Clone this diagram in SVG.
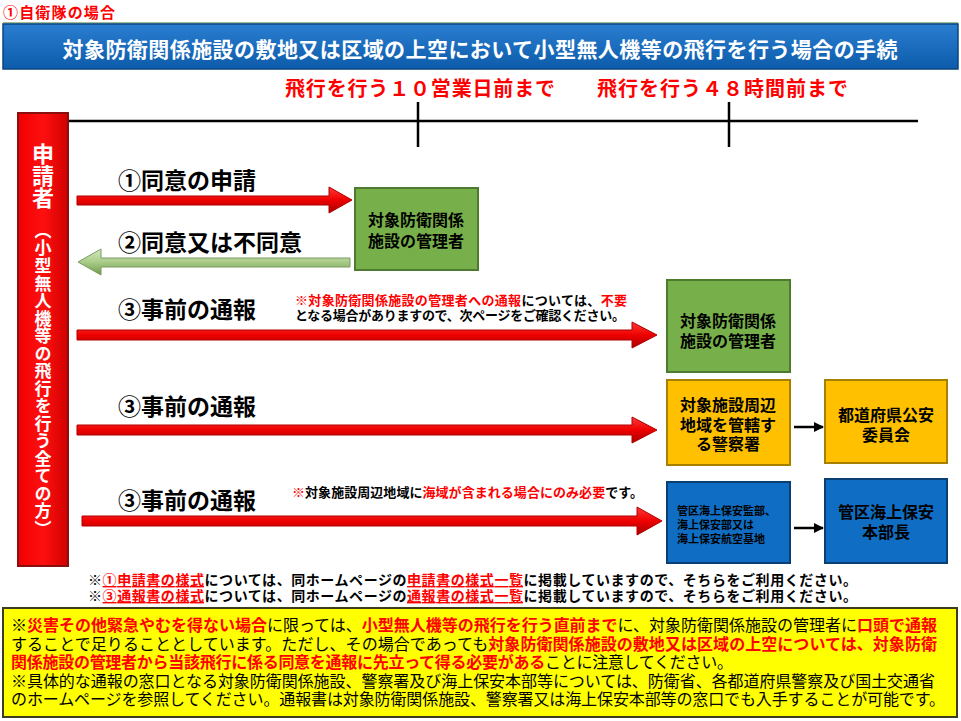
<svg xmlns="http://www.w3.org/2000/svg" width="961" height="721" viewBox="0 0 961 721">
<defs>
<linearGradient id="gRed" x1="0" y1="0" x2="0" y2="1"><stop offset="0" stop-color="#ff3a3a"/><stop offset="0.5" stop-color="#ee0000"/><stop offset="1" stop-color="#a80000"/></linearGradient>
<linearGradient id="gGreenArrow" x1="0" y1="0" x2="0" y2="1"><stop offset="0" stop-color="#d6e8c4"/><stop offset="0.5" stop-color="#a9cc88"/><stop offset="1" stop-color="#6f9a4c"/></linearGradient>
<linearGradient id="gBar" x1="0" y1="0" x2="1" y2="0"><stop offset="0" stop-color="#f00000"/><stop offset="0.5" stop-color="#ff1010"/><stop offset="1" stop-color="#d00000"/></linearGradient>
<linearGradient id="gHead" x1="0" y1="0" x2="0" y2="1"><stop offset="0" stop-color="#2a7dd0"/><stop offset="1" stop-color="#0d5cab"/></linearGradient>
<marker id="mArr" viewBox="0 0 10 10" refX="9" refY="5" markerWidth="4" markerHeight="4" orient="auto"><path d="M0,0 L10,5 L0,10 Z" fill="#000"/></marker>
</defs>
<style>
text{font-family:"Noto Sans CJK JP","Noto Sans CJK SC",sans-serif;}
.b{font-weight:700;}
.red{fill:#ff0000;}
.blk{fill:#000;}
.wht{fill:#fff;}
.box{stroke-width:2;}
.green{fill:#77b04a;stroke:#4d7a2c;}
.yellow{fill:#ffc000;stroke:#a88000;}
.blue{fill:#0f6ec4;stroke:#0a3f74;}
.bt{font-weight:700;font-size:16px;fill:#000;text-anchor:middle;}
.row{font-weight:700;font-size:23px;fill:#000;}
.note{font-weight:700;font-size:13px;}
.fn{font-weight:700;font-size:14px;}
.ul{text-decoration:underline;}
.yb{font-size:16px;fill:#000;}
</style>
<rect width="961" height="721" fill="#fff"/>

<g id="title">
<text x="3" y="18" class="b red" font-size="15" textLength="112">①自衛隊の場合</text>
</g>

<g id="header">
<line x1="3" y1="23" x2="958" y2="23" stroke="#9ebd9a" stroke-width="2"/>
<rect x="3" y="24" width="955" height="45" fill="url(#gHead)" stroke="#0b4682" stroke-width="1.5"/>
<text x="480" y="57" class="b wht" font-size="21" text-anchor="middle" textLength="835">対象防衛関係施設の敷地又は区域の上空において小型無人機等の飛行を行う場合の手続</text>
</g>

<g id="timeline">
<text x="285" y="96" class="b red" font-size="20" textLength="270">飛行を行う１０営業日前まで</text>
<text x="597" y="96" class="b red" font-size="20" textLength="251">飛行を行う４８時間前まで</text>
<line x1="68" y1="121" x2="918" y2="121" stroke="#000" stroke-width="2.5"/>
<line x1="418" y1="102" x2="418" y2="147" stroke="#000" stroke-width="2.5"/>
<line x1="729" y1="102" x2="729" y2="147" stroke="#000" stroke-width="2.5"/>
</g>

<g id="applicant">
<rect x="18" y="113" width="50" height="453" fill="url(#gBar)" stroke="#8a1010" stroke-width="2"/>
<text x="43" y="143" class="b wht" font-size="22" writing-mode="vertical-rl">申請者</text>
<text x="43" y="222" class="b wht" font-size="17" writing-mode="vertical-rl" textLength="315">（小型無人機等の飛行を行う全ての方）</text>
</g>

<g id="connectors">
<path d="M77,196 H329 V187 L352,200 L329,213 V205 H77 Z" fill="url(#gRed)" stroke="#b00000" stroke-width="1"/>
<path d="M350,258 H101 V249 L78,262 L101,275 V267 H350 Z" fill="url(#gGreenArrow)" stroke="#7a9c60" stroke-width="1"/>
<path d="M77,330 H632 V322 L657,335 L632,348 V340 H77 Z" fill="url(#gRed)" stroke="#b00000" stroke-width="1"/>
<path d="M77,425 H632 V417 L657,430 L632,443 V435 H77 Z" fill="url(#gRed)" stroke="#b00000" stroke-width="1"/>
<path d="M82,516 H637 V507 L662,521 L637,535 V526 H82 Z" fill="url(#gRed)" stroke="#b00000" stroke-width="1"/>
<line x1="794" y1="427" x2="823" y2="427" stroke="#000" stroke-width="2.5" marker-end="url(#mArr)"/>
<line x1="794" y1="528" x2="823" y2="528" stroke="#000" stroke-width="2.5" marker-end="url(#mArr)"/>
</g>

<g id="labels">
<text x="118" y="189" class="row">①同意の申請</text>
<text x="118" y="251" class="row">②同意又は不同意</text>
<text x="118" y="318" class="row">③事前の通報</text>
<text x="118" y="415" class="row">③事前の通報</text>
<text x="118" y="509" class="row">③事前の通報</text>
<text x="295" y="305" class="note" textLength="332"><tspan class="red">※対象防衛関係施設の管理者への通報</tspan><tspan class="blk">については、</tspan><tspan class="red">不要</tspan></text>
<text x="295" y="320" class="note blk" textLength="330">となる場合がありますので、次ページをご確認ください。</text>
<text x="292" y="497" class="note" textLength="351"><tspan class="red">※</tspan><tspan class="blk">対象施設周辺地域に</tspan><tspan class="red">海域が含まれる場合にのみ必要</tspan><tspan class="blk">です。</tspan></text>
</g>

<g id="node-mgr1">
<rect x="355" y="188" width="123" height="82" class="box green"/>
<text x="416" y="226" class="bt">対象防衛関係</text>
<text x="416" y="247" class="bt">施設の管理者</text>
</g>

<g id="node-mgr2">
<rect x="667" y="280" width="123" height="92" class="box green"/>
<text x="728" y="327" class="bt">対象防衛関係</text>
<text x="728" y="347" class="bt">施設の管理者</text>
</g>

<g id="node-police">
<rect x="667" y="380" width="123" height="85" class="box yellow"/>
<text x="728" y="411" class="bt">対象施設周辺</text>
<text x="728" y="431" class="bt">地域を管轄す</text>
<text x="728" y="450" class="bt">る警察署</text>
</g>

<g id="node-commission">
<rect x="825" y="380" width="122" height="83" class="box yellow"/>
<text x="886" y="421" class="bt">都道府県公安</text>
<text x="886" y="441" class="bt">委員会</text>
</g>

<g id="node-coastguard">
<rect x="667" y="482" width="123" height="81" class="box blue"/>
<text x="677" y="515" font-size="11" class="b blk">管区海上保安監部、</text>
<text x="677" y="529" font-size="11" class="b blk">海上保安部又は</text>
<text x="677" y="543" font-size="11" class="b blk">海上保安航空基地</text>
</g>

<g id="node-hq">
<rect x="825" y="479" width="122" height="84" class="box blue"/>
<text x="886" y="518" class="bt">管区海上保安</text>
<text x="886" y="538" class="bt">本部長</text>
</g>

<g id="footnotes">
<text x="88" y="585" class="fn" textLength="769"><tspan class="blk">※</tspan><tspan class="red ul">①申請書の様式</tspan><tspan class="blk">については、同ホームページの</tspan><tspan class="red ul">申請書の様式一覧</tspan><tspan class="blk">に掲載していますので、そちらをご利用ください。</tspan></text>
<text x="88" y="601" class="fn" textLength="769"><tspan class="blk">※</tspan><tspan class="red ul">③通報書の様式</tspan><tspan class="blk">については、同ホームページの</tspan><tspan class="red ul">通報書の様式一覧</tspan><tspan class="blk">に掲載していますので、そちらをご利用ください。</tspan></text>
</g>

<g id="notice">
<rect x="3" y="608" width="954" height="109" fill="#ffff00" stroke="#3d3d20" stroke-width="2"/>
<text x="11" y="631" class="yb" textLength="926"><tspan>※</tspan><tspan class="red b">災害その他緊急やむを得ない場合</tspan><tspan>に限っては、</tspan><tspan class="red b">小型無人機等の飛行を行う直前まで</tspan><tspan>に、対象防衛関係施設の管理者に</tspan><tspan class="red b">口頭で通報</tspan></text>
<text x="11" y="650" class="yb" textLength="926"><tspan>することで足りることとしています。ただし、その場合であっても</tspan><tspan class="red b">対象防衛関係施設の敷地又は区域の上空については、対象防衛</tspan></text>
<text x="11" y="668" class="yb" textLength="722"><tspan class="red b">関係施設の管理者から当該飛行に係る同意を通報に先立って得る必要がある</tspan><tspan>ことに注意してください。</tspan></text>
<text x="11" y="687" class="yb" textLength="924">※具体的な通報の窓口となる対象防衛関係施設、警察署及び海上保安本部等については、防衛省、各都道府県警察及び国土交通省</text>
<text x="11" y="705" class="yb" textLength="934">のホームページを参照してください。通報書は対象防衛関係施設、警察署又は海上保安本部等の窓口でも入手することが可能です。</text>
</g>
</svg>
